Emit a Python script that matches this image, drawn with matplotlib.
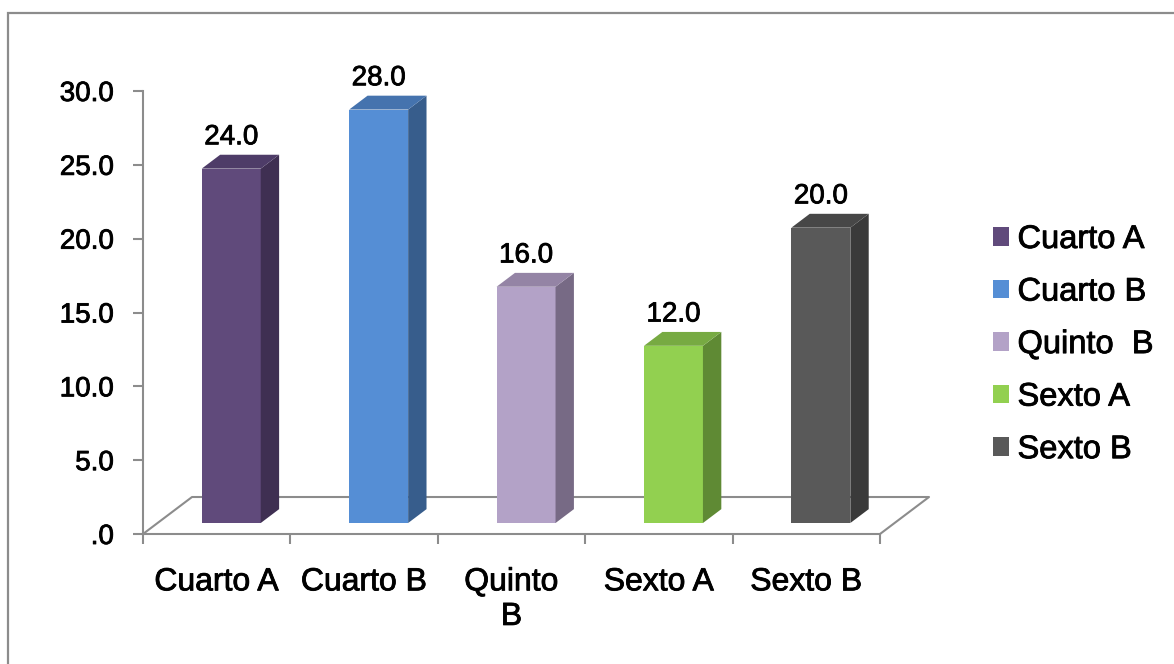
import matplotlib
matplotlib.use('Agg')
import matplotlib.pyplot as plt
import matplotlib.patheffects as pe
from matplotlib.patches import Patch, Rectangle

plt.rcParams['font.family'] = ['Liberation Sans', 'DejaVu Sans']

# data
grupos = ['Cuarto A', 'Cuarto B', 'Quinto  B', 'Sexto A', 'Sexto B']
etiquetas_x = ['Cuarto A', 'Cuarto B', 'Quinto\nB', 'Sexto A', 'Sexto B']
valores = [24.0, 28.0, 16.0, 12.0, 20.0]
yticks = [0, 5, 10, 15, 20, 25, 30]

# front / side / top shades for each bar
frente = ['#604A7B', '#558ED5', '#B3A2C7', '#92D050', '#595959']
lado = ['#3F2F52', '#375D8C', '#776A85', '#5F8A34', '#3A3A3A']
tapa = ['#4E3C68', '#4573AE', '#9484A5', '#77AA42', '#474747']

gris = '#8C8C8C'
grueso = [pe.withStroke(linewidth=0.6, foreground='black')]

fig = plt.figure(figsize=(11.74, 6.64), dpi=100)
ax = fig.add_axes([143 / 1174, 1 - 534 / 664, 737 / 1174, 443 / 664])
ax.set_xlim(0, 5)
ax.set_ylim(0, 30)
ax.patch.set_alpha(0)

# oblique depth offsets (x in category units, y in value units)
Dx, Dy = 0.3325, 2.505
d0, dd = 0.297, 0.375

# floor
ax.fill([0, 5, 5 + Dx, Dx], [0, 0, Dy, Dy], color='white', zorder=1, clip_on=False)
ax.plot([0, Dx, 5 + Dx, 5], [0, Dy, Dy, 0], color=gris, lw=1.5, zorder=2,
        clip_on=False)

for i, v in enumerate(valores):
    xl = i + 0.3 + d0 * Dx
    xr = i + 0.7 + d0 * Dx
    yb = d0 * Dy
    yt = v + d0 * Dy
    ox, oy = dd * Dx, dd * Dy
    ax.fill([xl, xr, xr, xl], [yb, yb, yt, yt], color=frente[i], zorder=3,
            clip_on=False, lw=0)
    ax.fill([xr, xr + ox, xr + ox, xr], [yb, yb + oy, yt + oy, yt],
            color=lado[i], zorder=3, clip_on=False, lw=0)
    ax.fill([xl, xr, xr + ox, xl + ox], [yt, yt, yt + oy, yt + oy],
            color=tapa[i], zorder=3, clip_on=False, lw=0)
    ax.text((xl + xr) / 2, yt + oy + 0.3, f'{v:.1f}', ha='center',
            va='bottom', fontsize=20, zorder=4, path_effects=grueso)

# axes
for s in ['top', 'right']:
    ax.spines[s].set_visible(False)
for s in ['left', 'bottom']:
    ax.spines[s].set_color(gris)
    ax.spines[s].set_linewidth(1.5)

ax.set_yticks(yticks)
ax.set_yticklabels(['.0' if t == 0 else f'{t:.1f}' for t in yticks])
ax.tick_params(axis='y', length=7, width=1.5, color=gris, labelsize=20, pad=14)

ax.set_xticks(range(6))
ax.set_xticklabels([])
ax.set_xticks([i + 0.5 for i in range(5)], minor=True)
ax.set_xticklabels(etiquetas_x, minor=True)
ax.tick_params(axis='x', which='major', length=7, width=1.5, color=gris)
ax.tick_params(axis='x', which='minor', length=0, labelsize=23, pad=24)

for t in ax.get_yticklabels() + ax.get_xticklabels(minor=True):
    t.set_path_effects(grueso)

# legend
handles = [Patch(facecolor=c, edgecolor='none') for c in frente]
leg = fig.legend(handles, grupos, loc='upper left',
                 bbox_to_anchor=(993 / 1174, 1 - 224 / 664), frameon=False,
                 fontsize=23.5, handlelength=0.5, handleheight=0.5,
                 handletextpad=0.25, labelspacing=0.66, borderpad=0,
                 borderaxespad=0)
for t in leg.get_texts():
    t.set_path_effects(grueso)

# chart border
fig.add_artist(Rectangle((7.5 / 1174, -0.2), 1.2, 1.2 - 13.5 / 664,
                         transform=fig.transFigure, fill=False,
                         edgecolor=gris, lw=1.6))

fig.savefig('out.png', dpi=100)
